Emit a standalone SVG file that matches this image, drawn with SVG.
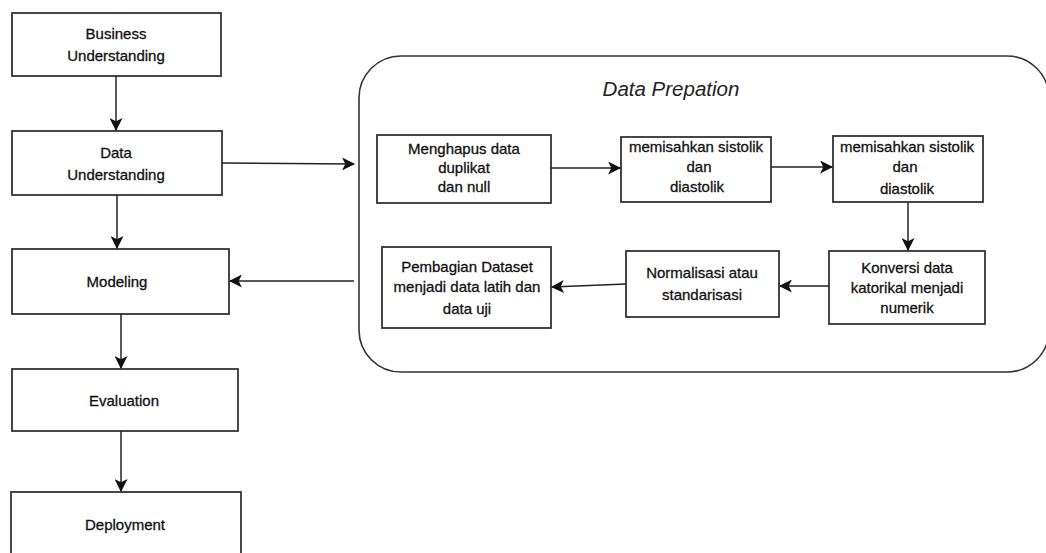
<svg xmlns="http://www.w3.org/2000/svg" width="1046" height="553" viewBox="0 0 1046 553">
<style>
.box{fill:#fff;stroke:#333;stroke-width:1.8}
.t{font-family:"Liberation Sans",Arial,sans-serif;font-size:15px;fill:#111;stroke:#111;stroke-width:0.3;text-anchor:middle}
.ttl{font-family:"Liberation Sans",Arial,sans-serif;font-size:20.5px;font-style:italic;fill:#222;text-anchor:middle}
.c{fill:none;stroke:#222;stroke-width:1.5}
</style>
<defs>
<marker id="ah" viewBox="0 0 12 12" refX="11" refY="6" markerWidth="13" markerHeight="13" markerUnits="userSpaceOnUse" orient="auto">
<path d="M0,0 L12,6 L0,12 L3,6 Z" fill="#111"/>
</marker>
</defs>
<rect width="1046" height="553" fill="#fff"/>
<g id="data-preparation">
<rect x="359" y="56" width="690" height="316" rx="42" ry="42" fill="#fff" stroke="#333" stroke-width="1.6"/>
<text class="ttl" x="671" y="96">Data Prepation</text>
</g>
<g id="business-understanding">
<rect class="box" x="12" y="13" width="209" height="63"/>
<text class="t" x="116" y="39">Business</text>
<text class="t" x="116" y="61">Understanding</text>
</g>
<g id="data-understanding">
<rect class="box" x="12" y="131" width="210" height="64"/>
<text class="t" x="116" y="158">Data</text>
<text class="t" x="116" y="180">Understanding</text>
</g>
<g id="modeling">
<rect class="box" x="12" y="249" width="217" height="65"/>
<text class="t" x="117" y="287">Modeling</text>
</g>
<g id="evaluation">
<rect class="box" x="12" y="369" width="226" height="62"/>
<text class="t" x="124" y="406">Evaluation</text>
</g>
<g id="deployment">
<rect class="box" x="11" y="492" width="230" height="70"/>
<text class="t" x="125" y="530">Deployment</text>
</g>
<g id="hapus">
<rect class="box" x="377" y="135" width="174" height="68"/>
<text class="t" x="464" y="154">Menghapus data</text>
<text class="t" x="464" y="173">duplikat</text>
<text class="t" x="464" y="192">dan null</text>
</g>
<g id="pisah1">
<rect class="box" x="621" y="137" width="150" height="65"/>
<text class="t" x="696" y="152">memisahkan sistolik</text>
<text class="t" x="699" y="172">dan</text>
<text class="t" x="697" y="192">diastolik</text>
</g>
<g id="pisah2">
<rect class="box" x="833" y="136" width="150" height="66"/>
<text class="t" x="907" y="152">memisahkan sistolik</text>
<text class="t" x="905" y="172">dan</text>
<text class="t" x="907" y="194">diastolik</text>
</g>
<g id="konversi">
<rect class="box" x="829" y="251" width="156" height="73"/>
<text class="t" x="907" y="273">Konversi data</text>
<text class="t" x="907" y="293">katorikal menjadi</text>
<text class="t" x="907" y="313">numerik</text>
</g>
<g id="normalisasi">
<rect class="box" x="626" y="251" width="153" height="66"/>
<text class="t" x="702" y="278">Normalisasi atau</text>
<text class="t" x="702" y="300">standarisasi</text>
</g>
<g id="pembagian">
<rect class="box" x="382" y="247" width="169" height="81"/>
<text class="t" x="467" y="272">Pembagian Dataset</text>
<text class="t" x="467" y="292">menjadi data latih dan</text>
<text class="t" x="467" y="314">data uji</text>
</g>
<g id="connectors">
<line class="c" x1="116" y1="76" x2="116" y2="130" marker-end="url(#ah)"/>
<line class="c" x1="117" y1="195" x2="117" y2="248" marker-end="url(#ah)"/>
<line class="c" x1="121" y1="314" x2="121" y2="368" marker-end="url(#ah)"/>
<line class="c" x1="121" y1="431" x2="121" y2="491" marker-end="url(#ah)"/>
<line class="c" x1="222" y1="163" x2="354" y2="164" marker-end="url(#ah)"/>
<line class="c" x1="354" y1="281" x2="230" y2="281" marker-end="url(#ah)"/>
<line class="c" x1="551" y1="168" x2="620" y2="168" marker-end="url(#ah)"/>
<line class="c" x1="771" y1="167" x2="832" y2="167" marker-end="url(#ah)"/>
<line class="c" x1="908" y1="202" x2="908" y2="250" marker-end="url(#ah)"/>
<line class="c" x1="829" y1="286" x2="780" y2="286" marker-end="url(#ah)"/>
<line class="c" x1="626" y1="284" x2="552" y2="287" marker-end="url(#ah)"/>
</g>
</svg>
